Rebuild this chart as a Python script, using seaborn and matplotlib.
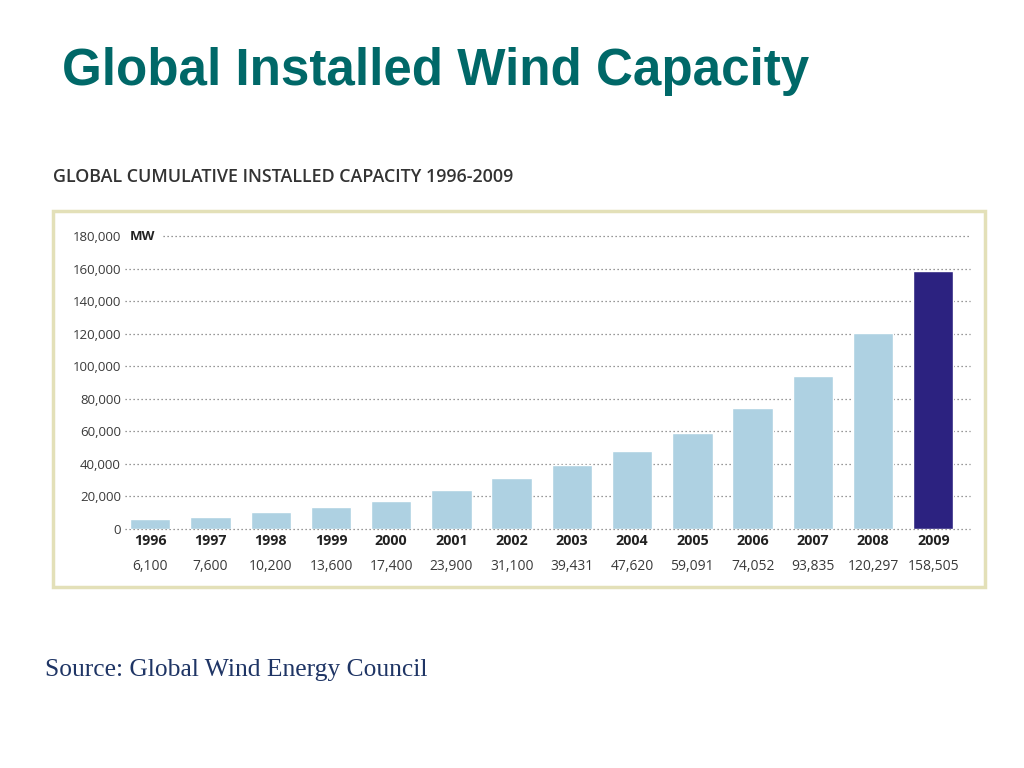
import matplotlib
matplotlib.use("Agg")
import matplotlib.pyplot as plt
import matplotlib.patches as patches
import seaborn as sns
import pandas as pd

# values
years = ["1996", "1997", "1998", "1999", "2000", "2001", "2002",
         "2003", "2004", "2005", "2006", "2007", "2008", "2009"]
capacity_mw = [6100, 7600, 10200, 13600, 17400, 23900, 31100,
               39431, 47620, 59091, 74052, 93835, 120297, 158505]
yticks = [0, 20000, 40000, 60000, 80000, 100000, 120000, 140000, 160000, 180000]

LIGHT = "#aed1e2"
DARK = "#2c2280"
TEAL = "#006868"
GREY_TXT = "#3a3a3a"


def main() -> None:
    sns.set_style("white")
    plt.rcParams["font.family"] = ["Open Sans", "DejaVu Sans"]

    df = pd.DataFrame({"year": years, "mw": capacity_mw})
    palette = [LIGHT] * (len(years) - 1) + [DARK]

    fig = plt.figure(figsize=(10.24, 7.68), dpi=100)

    # slide title
    fig.text(62 / 1024, 1 - 72 / 768, "Global Installed Wind Capacity",
             fontsize=36.8, fontweight="bold", color=TEAL,
             family="Liberation Sans", va="center", ha="left")

    # panel heading
    fig.text(53 / 1024, 1 - 177 / 768, "GLOBAL CUMULATIVE INSTALLED CAPACITY 1996-2009",
             fontsize=12.9, fontweight="semibold", color="#333333", va="center", ha="left")

    # panel frame
    frame = patches.Rectangle((53 / 1024, 1 - 587 / 768), (985 - 53) / 1024,
                              (587 - 211) / 768, transform=fig.transFigure,
                              fill=False, edgecolor="#e3e0b8", linewidth=2.5)
    fig.patches.append(frame)

    ax = fig.add_axes([125 / 1024, 1 - 529 / 768, 845 / 1024, (529 - 236) / 768])
    sns.barplot(data=df, x="year", y="mw", hue="year", palette=palette,
                legend=False, width=0.67, saturation=1, ax=ax, zorder=3)

    ax.set_ylim(0, 180000)
    ax.set_xlim(-0.42, 13.61)
    ax.set_yticks(yticks)
    ax.set_yticklabels([f"{v:,}" for v in yticks], fontsize=9.5, color=GREY_TXT)
    ax.tick_params(axis="y", length=0, pad=3)
    ax.set_xticks([])
    ax.set_xlabel("")
    ax.set_ylabel("")
    for s in ax.spines.values():
        s.set_visible(False)
    ax.grid(False)
    for v in yticks:
        x0 = 0.045 if v == 180000 else 0.0
        ax.axhline(v, xmin=x0, xmax=1, color="#777777", linestyle=(0, (1, 2.2)),
                   linewidth=0.9, zorder=1, clip_on=False)

    ax.text(0.006, 180000, "MW", transform=ax.get_yaxis_transform(),
            fontsize=9.5, fontweight="bold", color="#222222", va="center", ha="left")

    # year and value labels under the bars
    for i, (yr, mw) in enumerate(zip(years, capacity_mw)):
        ax.text(i, -7400, yr, ha="center", va="center", fontsize=10.3,
                fontweight="bold", color="#222222", clip_on=False)
        ax.text(i, -22800, f"{mw:,}", ha="center", va="center", fontsize=10,
                color=GREY_TXT, clip_on=False)

    # source line
    fig.text(45 / 1024, 1 - 670 / 768, "Source: Global Wind Energy Council",
             fontsize=18.4, family="Liberation Serif", color="#1f3565",
             va="center", ha="left")

    fig.savefig("out.png", dpi=100)


if __name__ == "__main__":
    main()
